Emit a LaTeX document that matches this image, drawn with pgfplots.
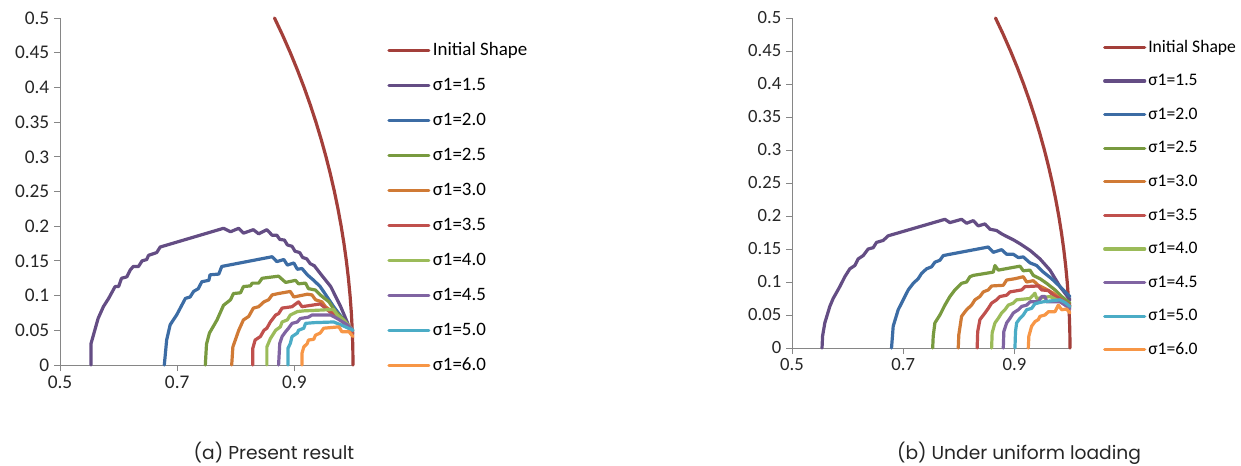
\documentclass[border=0pt]{standalone}
\usepackage{pgfplots}
\pgfplotsset{compat=1.18}
\usepackage{fontspec}
\setmainfont{Carlito}
\newfontfamily\capfont{Poppins}
\definecolor{cInit}{HTML}{A33F3A}
\definecolor{cA}{HTML}{644D84}
\definecolor{cB}{HTML}{3C6CA4}
\definecolor{cC}{HTML}{789A3F}
\definecolor{cD}{HTML}{D07A35}
\definecolor{cE}{HTML}{C0504D}
\definecolor{cF}{HTML}{9BBB59}
\definecolor{cG}{HTML}{8064A2}
\definecolor{cH}{HTML}{4BACC6}
\definecolor{cI}{HTML}{F79646}
\definecolor{axgray}{HTML}{868686}
\pgfplotsset{
  mystyle/.style={
    scale only axis,
    axis lines*=left,
    axis line style={axgray, line width=0.75pt},
    xmin=0.5, xmax=1.0, ymin=0, ymax=0.5,
    xtick={0.5,0.7,0.9},
    ytick={0,0.05,...,0.5},
    tick style={axgray, line width=0.75pt},
    major tick length=4.5pt,
    tick align=outside,
    scaled ticks=false,
    /pgf/number format/.cd, fixed, precision=2, assume math mode=true, /pgfplots/.cd,
    clip=false,
    every axis plot/.append style={line width=2.4pt, line join=round, line cap=round},
    legend cell align=left,
    legend image code/.code={\draw[##1] (0pt,0pt) -- (30pt,0pt);},
  }
}
\begin{document}
\begin{tikzpicture}
\path[use as bounding box] (0pt,0pt) rectangle (930.75pt,348.75pt);
% ---------------- Panel (a)
\begin{axis}[mystyle,
  at={(45pt,75pt)}, anchor=south west,
  width=219.75pt, height=260.25pt,
  tick label style={font=\fontsize{14.5}{16}\selectfont, text=black!85},
  legend style={at={(1.116,0.931)}, anchor=north west, draw=none, fill=none,
    inner sep=0pt, row sep=13.25pt, column sep=1.8pt,
    font=\fontsize{14.2}{16}\selectfont,
    nodes={inner sep=0pt, text height=10pt, text depth=3pt}},
]
\addplot[cInit] coordinates {(1.0000,0) (0.99969,0.025) (0.99875,0.05) (0.99718,0.075) (0.99499,0.1) (0.99216,0.125) (0.98869,0.15) (0.98457,0.175) (0.97980,0.2) (0.97436,0.225) (0.96825,0.25) (0.96144,0.275) (0.95394,0.3) (0.94571,0.325) (0.93675,0.35) (0.92703,0.375) (0.91652,0.4) (0.90519,0.425) (0.89303,0.45) (0.87999,0.475) (0.86603,0.5)};
\addlegendentry{Initial Shape}
\addplot[cA] coordinates {(0.553,0) (0.553,0.031) (0.557,0.043) (0.565,0.067) (0.574,0.084) (0.583,0.096) (0.594,0.113) (0.600,0.113) (0.605,0.125) (0.614,0.127) (0.620,0.137) (0.625,0.142) (0.634,0.142) (0.640,0.150) (0.648,0.152) (0.651,0.158) (0.665,0.162) (0.671,0.170) (0.779,0.197) (0.791,0.192) (0.805,0.197) (0.813,0.190) (0.830,0.195) (0.839,0.189) (0.853,0.195) (0.862,0.187) (0.870,0.187) (0.875,0.181) (0.883,0.180) (0.888,0.173) (0.896,0.171) (0.901,0.164) (0.909,0.162) (0.914,0.155) (0.921,0.153) (0.927,0.146) (0.934,0.143) (0.944,0.132) (0.962,0.113) (0.979,0.084) (0.996,0.050) (1.0,0.045)};
\addlegendentry{σ1=1.5}
\addplot[cB] coordinates {(0.678,0) (0.682,0.036) (0.688,0.058) (0.699,0.072) (0.714,0.096) (0.722,0.098) (0.728,0.106) (0.736,0.110) (0.742,0.120) (0.754,0.122) (0.756,0.130) (0.771,0.131) (0.776,0.142) (0.862,0.156) (0.870,0.149) (0.882,0.152) (0.888,0.144) (0.899,0.147) (0.905,0.138) (0.913,0.139) (0.922,0.130) (0.933,0.122) (0.944,0.113) (0.956,0.098) (0.967,0.084) (0.984,0.065) (0.999,0.050)};
\addlegendentry{σ1=2.0}
\addplot[cC] coordinates {(0.748,0) (0.750,0.030) (0.755,0.046) (0.768,0.065) (0.779,0.086) (0.791,0.094) (0.796,0.103) (0.808,0.104) (0.813,0.113) (0.825,0.114) (0.828,0.118) (0.839,0.118) (0.845,0.125) (0.873,0.128) (0.885,0.119) (0.902,0.122) (0.907,0.117) (0.919,0.118) (0.924,0.110) (0.936,0.108) (0.944,0.101) (0.959,0.091) (0.970,0.077) (0.984,0.065) (0.999,0.050)};
\addlegendentry{σ1=2.5}
\addplot[cD] coordinates {(0.793,0) (0.795,0.026) (0.805,0.050) (0.813,0.065) (0.822,0.070) (0.830,0.082) (0.839,0.084) (0.848,0.091) (0.856,0.094) (0.862,0.101) (0.873,0.103) (0.893,0.106) (0.899,0.098) (0.922,0.102) (0.930,0.101) (0.936,0.094) (0.947,0.091) (0.953,0.084) (0.964,0.077) (0.976,0.067) (0.990,0.058) (1.000,0.048)};
\addlegendentry{σ1=3.0}
\addplot[cE] coordinates {(0.829,0) (0.829,0.024) (0.833,0.036) (0.842,0.041) (0.848,0.050) (0.853,0.053) (0.859,0.062) (0.868,0.072) (0.873,0.074) (0.879,0.082) (0.896,0.084) (0.907,0.091) (0.913,0.084) (0.944,0.088) (0.950,0.084) (0.967,0.072) (0.979,0.065) (0.993,0.053) (1.000,0.046)};
\addlegendentry{σ1=3.5}
\addplot[cF] coordinates {(0.853,0) (0.853,0.026) (0.859,0.038) (0.868,0.050) (0.876,0.055) (0.879,0.062) (0.888,0.065) (0.893,0.072) (0.905,0.077) (0.916,0.078) (0.967,0.080) (0.973,0.072) (0.984,0.065) (1.000,0.050)};
\addlegendentry{σ1=4.0}
\addplot[cG] coordinates {(0.873,0) (0.875,0.031) (0.879,0.041) (0.885,0.048) (0.890,0.053) (0.896,0.060) (0.905,0.062) (0.910,0.067) (0.924,0.069) (0.930,0.072) (0.962,0.072) (0.973,0.067) (0.990,0.058) (1.000,0.050)};
\addlegendentry{σ1=4.5}
\addplot[cH] coordinates {(0.889,0) (0.889,0.024) (0.893,0.031) (0.896,0.041) (0.905,0.046) (0.907,0.050) (0.916,0.053) (0.919,0.060) (0.933,0.061) (0.967,0.062) (0.979,0.058) (1.000,0.050)};
\addlegendentry{σ1=5.0}
\addplot[cI] coordinates {(0.913,0) (0.913,0.017) (0.916,0.026) (0.922,0.031) (0.924,0.036) (0.933,0.037) (0.936,0.043) (0.944,0.046) (0.950,0.053) (0.976,0.055) (0.981,0.048) (0.993,0.048) (1.000,0.041)};
\addlegendentry{σ1=6.0}
\end{axis}
% ---------------- Panel (b)
\begin{axis}[mystyle,
  at={(594pt,87.75pt)}, anchor=south west,
  width=208.5pt, height=247.5pt,
  tick label style={font=\fontsize{14}{16}\selectfont, text=black!85},
  legend style={at={(1.118,0.938)}, anchor=north west, draw=none, fill=none,
    inner sep=0pt, row sep=12.2pt, column sep=1.5pt,
    font=\fontsize{13.2}{15}\selectfont,
    nodes={inner sep=0pt, text height=10pt, text depth=3pt}},
]
\addplot[cInit] coordinates {(1.0000,0) (0.99969,0.025) (0.99875,0.05) (0.99718,0.075) (0.99499,0.1) (0.99216,0.125) (0.98869,0.15) (0.98457,0.175) (0.97980,0.2) (0.97436,0.225) (0.96825,0.25) (0.96144,0.275) (0.95394,0.3) (0.94571,0.325) (0.93675,0.35) (0.92703,0.375) (0.91652,0.4) (0.90519,0.425) (0.89303,0.45) (0.87999,0.475) (0.86603,0.5)};
\addlegendentry{Initial Shape}
\addplot[cA] coordinates {(0.554,0) (0.555,0.018) (0.559,0.038) (0.568,0.063) (0.574,0.075) (0.586,0.093) (0.595,0.108) (0.604,0.120) (0.613,0.125) (0.619,0.135) (0.628,0.140) (0.637,0.150) (0.646,0.152) (0.652,0.160) (0.664,0.163) (0.673,0.170) (0.775,0.195) (0.784,0.190) (0.805,0.195) (0.814,0.189) (0.826,0.193) (0.835,0.185) (0.847,0.188) (0.856,0.180) (0.868,0.178) (0.877,0.173) (0.886,0.169) (0.898,0.164) (0.910,0.158) (0.928,0.148) (0.946,0.135) (0.964,0.118) (0.982,0.093) (1.000,0.073)};
\addlegendentry{σ1=1.5}
\addplot[cB] coordinates {(0.679,0) (0.682,0.033) (0.691,0.058) (0.700,0.073) (0.709,0.088) (0.718,0.098) (0.727,0.105) (0.733,0.113) (0.742,0.120) (0.751,0.123) (0.757,0.130) (0.766,0.133) (0.772,0.140) (0.784,0.142) (0.853,0.153) (0.862,0.145) (0.877,0.149) (0.886,0.142) (0.898,0.142) (0.907,0.137) (0.916,0.138) (0.928,0.129) (0.940,0.125) (0.952,0.115) (0.967,0.105) (0.982,0.093) (1.000,0.078)};
\addlegendentry{σ1=2.0}
\addplot[cC] coordinates {(0.753,0) (0.754,0.018) (0.757,0.038) (0.766,0.050) (0.775,0.065) (0.784,0.078) (0.793,0.088) (0.799,0.093) (0.805,0.098) (0.814,0.100) (0.820,0.108) (0.826,0.110) (0.862,0.115) (0.865,0.125) (0.871,0.118) (0.910,0.124) (0.916,0.117) (0.928,0.118) (0.934,0.110) (0.946,0.105) (0.958,0.098) (0.973,0.088) (0.985,0.078) (1.000,0.068)};
\addlegendentry{σ1=2.5}
\addplot[cD] coordinates {(0.799,0) (0.800,0.020) (0.805,0.048) (0.814,0.058) (0.823,0.065) (0.829,0.073) (0.838,0.078) (0.844,0.085) (0.853,0.088) (0.859,0.094) (0.880,0.095) (0.886,0.103) (0.901,0.105) (0.916,0.108) (0.922,0.100) (0.934,0.102) (0.943,0.095) (0.955,0.090) (0.970,0.083) (0.985,0.073) (1.000,0.063)};
\addlegendentry{σ1=3.0}
\addplot[cE] coordinates {(0.833,0) (0.834,0.025) (0.838,0.043) (0.847,0.053) (0.853,0.060) (0.859,0.068) (0.868,0.073) (0.874,0.078) (0.886,0.080) (0.892,0.085) (0.913,0.088) (0.919,0.093) (0.943,0.094) (0.949,0.088) (0.961,0.087) (0.970,0.080) (0.985,0.073) (1.000,0.065)};
\addlegendentry{σ1=3.5}
\addplot[cF] coordinates {(0.859,0) (0.860,0.023) (0.865,0.038) (0.871,0.045) (0.877,0.053) (0.883,0.058) (0.889,0.065) (0.898,0.068) (0.904,0.073) (0.928,0.075) (0.937,0.083) (0.940,0.075) (0.964,0.078) (0.976,0.073) (0.988,0.068) (1.000,0.063)};
\addlegendentry{σ1=4.0}
\addplot[cG] coordinates {(0.880,0) (0.881,0.025) (0.886,0.038) (0.892,0.045) (0.898,0.053) (0.907,0.058) (0.913,0.063) (0.922,0.065) (0.928,0.070) (0.943,0.070) (0.949,0.078) (0.955,0.078) (0.958,0.070) (0.982,0.070) (0.991,0.065) (1.000,0.060)};
\addlegendentry{σ1=4.5}
\addplot[cH] coordinates {(0.901,0) (0.902,0.025) (0.904,0.038) (0.910,0.045) (0.916,0.050) (0.922,0.058) (0.931,0.060) (0.937,0.067) (0.946,0.069) (0.952,0.070) (0.982,0.073) (0.991,0.069) (1.000,0.063)};
\addlegendentry{σ1=5.0}
\addplot[cI] coordinates {(0.925,0) (0.926,0.018) (0.931,0.033) (0.937,0.040) (0.943,0.043) (0.946,0.048) (0.955,0.050) (0.961,0.055) (0.973,0.055) (0.979,0.065) (0.985,0.058) (0.994,0.059) (1.000,0.053)};
\addlegendentry{σ1=6.0}
\end{axis}
\node[font=\capfont\fontsize{14}{16}\selectfont, text=black!85] at (205.5pt,9pt) {(a) Present result};
\node[font=\capfont\fontsize{14}{16}\selectfont, text=black!85] at (764.25pt,9pt) {(b) Under uniform loading};
\end{tikzpicture}
\end{document}
